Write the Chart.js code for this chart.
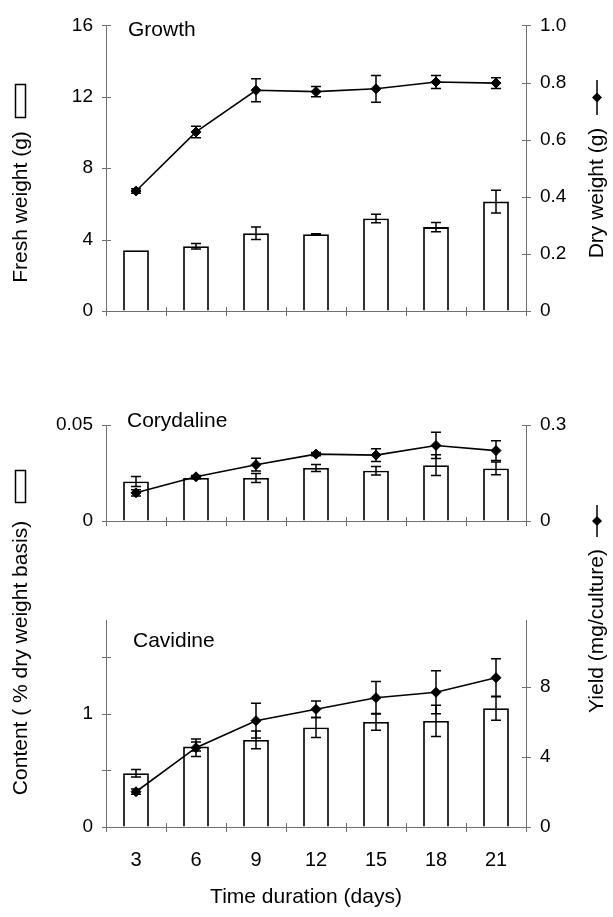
<!DOCTYPE html>
<html>
<head>
<meta charset="utf-8">
<script src="https://cdn.jsdelivr.net/npm/chart.js@4.4.1/dist/chart.umd.min.js"></script>
<style>
html,body{margin:0;padding:0;background:#fff;}
#wrap{position:relative;width:613px;height:917px;overflow:hidden;background:#fff;}
canvas{position:absolute;left:0;top:0;}
</style>
</head>
<body>
<div id="wrap">
<canvas id="c1" width="613" height="917"></canvas>
<canvas id="c2" width="613" height="917"></canvas>
<canvas id="c3" width="613" height="917"></canvas>
</div>
<script>
// ---------- data ----------
const days = ['3', '6', '9', '12', '15', '18', '21'];

// Growth
const freshWeight    = [3.40, 3.63, 4.35, 4.30, 5.18, 4.70, 6.13];
const freshWeightErr = [0, 0.15, 0.35, 0.03, 0.24, 0.26, 0.64];
const dryWeight      = [0.420, 0.627, 0.773, 0.768, 0.778, 0.802, 0.798];
const dryWeightErr   = [0.008, 0.020, 0.040, 0.018, 0.047, 0.023, 0.019];

// Corydaline
const corydalineContent    = [0.0206, 0.0224, 0.0224, 0.0276, 0.0262, 0.0291, 0.0274];
const corydalineContentErr = [0.0026, 0.0004, 0.0024, 0.0018, 0.0022, 0.0054, 0.0033];
const corydalineYield      = [0.088, 0.138, 0.176, 0.209, 0.206, 0.236, 0.220];
const corydalineYieldErr   = [0.010, 0.004, 0.020, 0.005, 0.020, 0.041, 0.031];

// Cavidine
const cavidineContent    = [0.475, 0.711, 0.770, 0.879, 0.929, 0.938, 1.050];
const cavidineContentErr = [0.034, 0.040, 0.078, 0.088, 0.074, 0.139, 0.107];
const cavidineYield      = [2.01, 4.52, 6.06, 6.71, 7.37, 7.68, 8.51];
const cavidineYieldErr   = [0.15, 0.50, 0.99, 0.47, 0.93, 1.22, 1.08];

// tick values and labels
const freshTicks      = [0, 4, 8, 12, 16];
const freshLabels     = ['0', '4', '8', '12', '16'];
const dryTicks        = [0, 0.2, 0.4, 0.6, 0.8, 1.0];
const dryLabels       = ['0', '0.2', '0.4', '0.6', '0.8', '1.0'];
const coryContTicks   = [0, 0.05];
const coryContLabels  = ['0', '0.05'];
const coryYieldTicks  = [0, 0.3];
const coryYieldLabels = ['0', '0.3'];
const caviContTicks   = [0, 0.5, 1, 1.5];
const caviContLabels  = ['0', '', '1', ''];
const caviYieldTicks  = [0, 4, 8];
const caviYieldLabels = ['0', '4', '8'];

// ---------- styling ----------
const FONT = '"Liberation Sans", Arial, Helvetica, sans-serif';
const AXIS = '#707070';
const TICKSIZE = 19;

// error bars drawn through the scales
const errorBars = {
  id: 'errorBars',
  afterDatasetsDraw(chart) {
    const ctx = chart.ctx;
    ctx.save();
    ctx.strokeStyle = '#000';
    ctx.lineWidth = 1.5;
    chart.data.datasets.forEach((ds, di) => {
      if (!ds.errors) return;
      const meta = chart.getDatasetMeta(di);
      const ys = chart.scales[ds.yAxisID];
      meta.data.forEach((el, i) => {
        const e = ds.errors[i];
        if (!e) return;
        const v = ds.data[i];
        const x = el.x;
        const yt = ys.getPixelForValue(v + e);
        const yb = ys.getPixelForValue(v - e);
        ctx.beginPath();
        ctx.moveTo(x, yt); ctx.lineTo(x, yb);
        ctx.moveTo(x - 5, yt); ctx.lineTo(x + 5, yt);
        ctx.moveTo(x - 5, yb); ctx.lineTo(x + 5, yb);
        ctx.stroke();
      });
    });
    ctx.restore();
  }
};

// small tick marks crossing the axis lines
const crossTicks = {
  id: 'crossTicks',
  afterDraw(chart) {
    const ctx = chart.ctx;
    const a = chart.chartArea;
    ctx.save();
    ctx.strokeStyle = AXIS;
    ctx.lineWidth = 1;
    ctx.beginPath();
    const xs = chart.scales.x;
    const n = chart.data.labels.length;
    const half = (xs.getPixelForValue(1) - xs.getPixelForValue(0)) / 2;
    for (let i = 0; i <= n; i++) {
      const px = Math.round(xs.getPixelForValue(i) - half) + 0.5;
      ctx.moveTo(px, a.bottom - 4); ctx.lineTo(px, a.bottom + 5);
    }
    ['yL', 'yR'].forEach(id => {
      const s = chart.scales[id];
      const ax = id === 'yL' ? a.left : a.right;
      s.ticks.forEach(t => {
        const py = Math.round(s.getPixelForValue(t.value)) + 0.5;
        ctx.moveTo(ax - 4, py); ctx.lineTo(ax + 5, py);
      });
    });
    ctx.stroke();
    ctx.restore();
  }
};

// free text + legend symbols
function figText(items, boxes, markers) {
  return {
    id: 'figText',
    afterDraw(chart) {
      const ctx = chart.ctx;
      items.forEach(it => {
        ctx.save();
        ctx.fillStyle = '#000';
        ctx.font = it.size + 'px ' + FONT;
        ctx.translate(it.x, it.y);
        if (it.rot) ctx.rotate(-Math.PI / 2);
        ctx.textAlign = it.align || 'left';
        ctx.textBaseline = it.baseline || 'alphabetic';
        ctx.fillText(it.text, 0, 0);
        ctx.restore();
      });
      boxes.forEach(b => {
        ctx.save();
        ctx.strokeStyle = '#000';
        ctx.lineWidth = 1.5;
        ctx.strokeRect(b.x, b.y, b.w, b.h);
        ctx.restore();
      });
      markers.forEach(m => {
        ctx.save();
        ctx.strokeStyle = '#000';
        ctx.fillStyle = '#000';
        ctx.lineWidth = 1.5;
        ctx.beginPath();
        ctx.moveTo(m.x, m.y1); ctx.lineTo(m.x, m.y2);
        ctx.stroke();
        const cy = (m.y1 + m.y2) / 2, r = 5;
        ctx.beginPath();
        ctx.moveTo(m.x - r, cy); ctx.lineTo(m.x, cy - r);
        ctx.lineTo(m.x + r, cy); ctx.lineTo(m.x, cy + r);
        ctx.closePath();
        ctx.fill();
        ctx.restore();
      });
    }
  };
}

function makePanel(id, p) {
  const tickFont = { family: FONT, size: TICKSIZE };
  return new Chart(document.getElementById(id), {
    type: 'bar',
    data: {
      labels: days,
      datasets: [
        {
          type: 'line', label: p.lineLabel, data: p.lineData, errors: p.lineErr, yAxisID: 'yR',
          borderColor: '#000', borderWidth: 1.6, tension: 0, fill: false,
          pointStyle: 'rectRot', pointRadius: 5, pointBackgroundColor: '#000',
          pointBorderColor: '#000', pointBorderWidth: 1, order: 0
        },
        {
          type: 'bar', label: p.barLabel, data: p.barData, errors: p.barErr, yAxisID: 'yL',
          backgroundColor: '#fff', borderColor: '#000', borderWidth: 1.8,
          barPercentage: 0.43, categoryPercentage: 1, order: 1
        }
      ]
    },
    options: {
      responsive: false, animation: false, devicePixelRatio: 1,
      layout: { padding: { top: p.top, bottom: p.padBottom, left: 0, right: 0 } },
      plugins: { legend: { display: false }, tooltip: { enabled: false }, title: { display: false } },
      scales: {
        x: {
          type: 'category', offset: true,
          grid: { display: true, drawOnChartArea: false, drawTicks: false, offset: true },
          border: { display: true, color: AXIS, width: 1 },
          ticks: { display: p.showX, font: { family: FONT, size: 20 }, color: '#000', padding: 21, maxRotation: 0, autoSkip: false },
          afterFit: s => { s.height = p.xh; }
        },
        yL: {
          position: 'left', min: 0, max: p.leftMax,
          afterBuildTicks: s => { s.ticks = p.leftTicks.map(v => ({ value: v })); },
          ticks: { callback: (v, i) => p.leftLabels[i], font: tickFont, color: '#000', padding: 13, autoSkip: false },
          grid: { drawOnChartArea: false, drawTicks: false },
          border: { display: true, color: AXIS, width: 1 },
          afterFit: s => { s.width = 106; }
        },
        yR: {
          position: 'right', min: 0, max: p.rightMax,
          afterBuildTicks: s => { s.ticks = p.rightTicks.map(v => ({ value: v })); },
          ticks: { callback: (v, i) => p.rightLabels[i], font: tickFont, color: '#000', padding: 14, autoSkip: false },
          grid: { drawOnChartArea: false, drawTicks: false },
          border: { display: true, color: AXIS, width: 1 },
          afterFit: s => { s.width = 87; }
        }
      }
    },
    plugins: [crossTicks, errorBars, figText(p.texts, p.boxes, p.markers)]
  });
}

// Panel 1 : Growth
makePanel('c1', {
  lineLabel: 'Dry weight (g)', lineData: dryWeight, lineErr: dryWeightErr,
  barLabel: 'Fresh weight (g)', barData: freshWeight, barErr: freshWeightErr,
  top: 23, padBottom: 917 - 311 - 8, xh: 8, showX: false,
  leftMax: 16, leftTicks: freshTicks, leftLabels: freshLabels,
  rightMax: 1.0, rightTicks: dryTicks, rightLabels: dryLabels,
  texts: [
    { text: 'Growth', x: 128, y: 35.5, size: 21 },
    { text: 'Fresh weight (g)', x: 21, y: 207, size: 21, rot: true, align: 'center', baseline: 'middle' },
    { text: 'Dry weight (g)', x: 597, y: 193, size: 21, rot: true, align: 'center', baseline: 'middle' }
  ],
  boxes: [{ x: 15.5, y: 84.5, w: 10, h: 33 }],
  markers: [{ x: 597, y1: 80, y2: 115 }]
});

// Panel 2 : Corydaline
makePanel('c2', {
  lineLabel: 'Yield (mg/culture)', lineData: corydalineYield, lineErr: corydalineYieldErr,
  barLabel: 'Content (% dry weight basis)', barData: corydalineContent, barErr: corydalineContentErr,
  top: 425, padBottom: 917 - 521 - 8, xh: 8, showX: false,
  leftMax: 0.05, leftTicks: coryContTicks, leftLabels: coryContLabels,
  rightMax: 0.3, rightTicks: coryYieldTicks, rightLabels: coryYieldLabels,
  texts: [
    { text: 'Corydaline', x: 127, y: 427, size: 21 }
  ],
  boxes: [], markers: []
});

// Panel 3 : Cavidine
makePanel('c3', {
  lineLabel: 'Yield (mg/culture)', lineData: cavidineYield, lineErr: cavidineYieldErr,
  barLabel: 'Content (% dry weight basis)', barData: cavidineContent, barErr: cavidineContentErr,
  top: 620, padBottom: 0, xh: 917 - 827, showX: true,
  leftMax: 1.83, leftTicks: caviContTicks, leftLabels: caviContLabels,
  rightMax: 11.8, rightTicks: caviYieldTicks, rightLabels: caviYieldLabels,
  texts: [
    { text: 'Cavidine', x: 133, y: 647, size: 21 },
    { text: 'Time duration (days)', x: 306, y: 903, size: 21, align: 'center' },
    { text: 'Content ( % dry weight basis)', x: 21, y: 658, size: 21, rot: true, align: 'center', baseline: 'middle' },
    { text: 'Yield (mg/culture)', x: 597, y: 631, size: 21, rot: true, align: 'center', baseline: 'middle' }
  ],
  boxes: [{ x: 15.5, y: 470.5, w: 10, h: 32 }],
  markers: [{ x: 597, y1: 505, y2: 537 }]
});
</script>
</body>
</html>
